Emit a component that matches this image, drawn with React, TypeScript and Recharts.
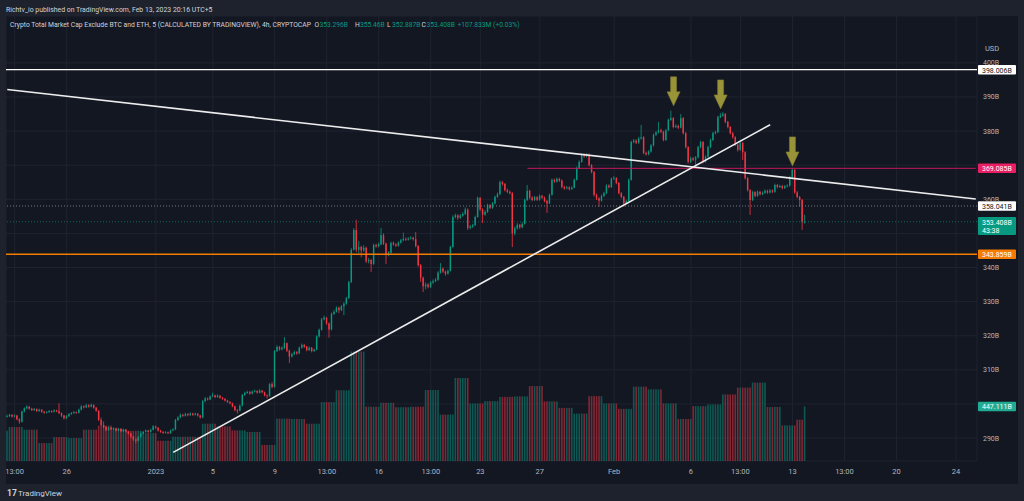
import React from 'react';
import { ComposedChart, Bar, XAxis, YAxis, CartesianGrid, ReferenceLine, ReferenceDot } from 'recharts';

// ---- candles (4h), open of each candle = close of the previous one ----
const OPEN_FIRST = 296.2;
const CLOSE = [
  296.4, 296.8, 296.3, 296.6, 295.5, 294.8, 297.8, 298.7, 299.2, 298.6,
  298.2, 298.5, 297.9, 298.3, 297.7, 297.4, 297.6, 297.9, 297.7, 298.1,
  297.9, 297.3, 296.6, 295.8, 296.4, 297.0, 297.3, 297.6, 297.4, 298.3,
  299.3, 299.0, 299.6, 299.2, 299.7, 298.9, 298.0, 295.3, 293.8, 293.2,
  292.4, 293.0, 292.6, 292.9, 292.2, 292.7, 292.0, 292.4, 291.9, 291.3,
  290.4, 289.6, 289.2, 290.3, 291.3, 291.8, 292.2, 291.8, 292.4, 293.4,
  293.0, 292.2, 291.8, 291.5, 291.7, 291.4, 292.2, 292.5, 295.3, 296.0,
  296.8, 296.5, 297.0, 296.7, 297.2, 296.8, 297.1, 296.6, 296.0, 300.8,
  301.6, 301.3, 302.2, 302.5, 302.0, 302.4, 301.8, 301.5, 301.0, 300.6,
  300.2, 299.3, 298.2, 298.0, 299.5, 302.6, 303.2, 303.5, 303.0, 303.6,
  303.8, 303.3, 303.9, 303.4, 302.5, 302.3, 305.8, 305.0, 315.5, 316.7,
  316.0, 316.4, 317.8, 315.6, 313.9, 314.6, 315.2, 314.8, 316.5, 317.3,
  316.8, 315.8, 316.5, 315.5, 315.9, 319.8, 321.7, 324.8, 325.3, 323.6,
  321.8, 326.4, 327.0, 328.2, 327.5, 328.6, 329.4, 331.0, 335.7, 345.2,
  351.0, 345.2, 346.0, 345.0, 345.8, 341.8, 342.2, 341.0, 346.6, 346.2,
  346.8, 349.5, 347.0, 343.7, 344.3, 347.2, 346.8, 346.4, 347.3, 348.0,
  348.4, 348.2, 348.5, 348.7, 348.3, 346.3, 340.7, 337.0, 334.5, 335.0,
  334.3, 335.6, 336.0, 336.4, 338.5, 339.7, 338.8, 338.2, 339.0, 346.0,
  354.8, 355.3, 354.6, 355.2, 355.7, 357.0, 351.6, 352.0, 352.4, 354.8,
  360.4, 357.0, 355.5, 356.3, 358.3, 357.5, 358.8, 360.7, 361.5, 365.0,
  364.5, 362.7, 362.2, 361.8, 350.0, 351.5, 352.5, 351.8, 352.8, 359.8,
  362.5, 360.5, 359.8, 360.6, 359.9, 361.0, 360.5, 359.5, 358.8, 361.3,
  365.7, 365.2, 366.0, 365.5, 363.6, 363.2, 363.5, 363.0, 363.4, 365.7,
  369.2, 371.0, 373.0, 372.6, 373.2, 370.0, 368.0, 361.3, 360.3, 359.6,
  361.0, 361.8, 364.0, 363.6, 366.0, 366.2, 364.8, 361.8, 360.7, 358.8,
  359.5, 365.7, 376.8, 377.2, 376.6, 377.8, 378.2, 373.6, 373.2, 374.0,
  375.8, 378.9, 379.6, 380.3, 379.8, 377.4, 380.2, 383.3, 383.8, 381.2,
  381.5, 381.0, 383.8, 379.4, 375.3, 371.0, 372.0, 371.6, 372.3, 375.3,
  376.8, 371.0, 372.5, 375.3, 377.4, 379.4, 379.7, 384.1, 384.5, 385.0,
  382.7, 381.2, 379.4, 378.2, 376.0, 374.5, 376.5, 373.8, 366.2, 362.7,
  359.8, 362.1, 361.0, 362.2, 361.5, 361.9, 362.5, 362.0, 362.6, 362.2,
  364.2, 363.6, 363.9, 363.3, 363.8, 364.0, 366.5, 368.6, 362.0, 360.7,
  359.8, 353.296, 353.408,
];
const HIGH = [
  296.9, 297.1, 297.0, 296.9, 296.8, 295.8, 298.0, 299.0, 299.6, 299.4,
  298.9, 298.8, 298.7, 298.6, 298.5, 298.0, 297.9, 298.2, 298.1, 298.4,
  298.3, 300.2, 297.5, 296.8, 296.7, 297.3, 297.6, 297.9, 297.8, 298.6,
  299.6, 299.5, 300.0, 299.9, 300.1, 299.9, 299.1, 298.2, 296.0, 294.9,
  293.5, 293.3, 293.2, 293.1, 293.0, 293.0, 292.9, 292.7, 292.6, 292.1,
  291.5, 290.6, 289.9, 290.5, 291.6, 292.1, 292.5, 292.4, 292.7, 293.8,
  293.6, 293.2, 292.4, 292.0, 292.0, 291.9, 292.5, 292.9, 295.6, 296.4,
  297.2, 297.1, 297.4, 297.3, 297.5, 297.4, 297.4, 297.3, 296.8, 301.1,
  302.0, 301.9, 302.5, 303.3, 302.7, 302.8, 302.6, 302.0, 301.7, 301.2,
  300.8, 300.4, 299.5, 298.5, 299.8, 302.9, 303.6, 303.9, 303.8, 304.0,
  304.2, 304.0, 304.3, 304.1, 303.6, 302.8, 306.1, 306.4, 315.8, 317.2,
  317.0, 316.9, 319.6, 318.0, 315.9, 315.0, 315.6, 315.5, 316.8, 317.7,
  317.6, 317.0, 316.8, 316.7, 316.2, 320.1, 322.1, 325.2, 325.9, 325.5,
  323.9, 326.8, 327.5, 328.6, 328.5, 329.0, 329.8, 331.4, 336.1, 345.7,
  351.6, 354.0, 347.8, 346.4, 346.5, 346.1, 342.8, 342.5, 347.0, 347.0,
  347.3, 351.6, 350.0, 347.3, 344.8, 347.6, 347.6, 347.1, 347.7, 348.4,
  350.2, 348.8, 348.9, 349.2, 349.0, 350.4, 346.6, 341.0, 337.3, 335.6,
  335.4, 336.0, 336.5, 336.9, 338.9, 341.3, 340.0, 339.1, 339.4, 346.4,
  355.3, 355.8, 355.6, 355.7, 356.2, 357.6, 357.3, 352.5, 352.8, 355.2,
  360.8, 360.7, 357.4, 356.8, 358.7, 358.6, 359.2, 361.1, 362.0, 365.5,
  365.4, 364.8, 363.1, 362.6, 362.1, 352.0, 353.0, 352.8, 353.3, 360.2,
  364.2, 362.8, 360.9, 361.0, 360.9, 361.4, 361.3, 360.8, 359.8, 361.7,
  366.1, 366.1, 366.4, 366.3, 365.8, 364.0, 363.9, 363.8, 363.8, 366.1,
  369.6, 371.4, 373.4, 373.5, 373.6, 373.5, 370.3, 368.3, 361.7, 360.6,
  361.4, 362.2, 364.4, 364.4, 366.4, 366.8, 366.5, 365.1, 362.1, 361.0,
  359.9, 366.1, 377.2, 377.7, 377.6, 378.3, 381.8, 378.5, 374.0, 374.4,
  376.2, 379.3, 380.0, 382.7, 380.7, 380.1, 380.6, 383.7, 386.0, 384.1,
  382.0, 381.9, 385.0, 384.1, 379.7, 375.6, 372.5, 372.4, 372.7, 375.7,
  377.2, 377.1, 372.9, 375.7, 377.8, 379.8, 380.1, 384.5, 385.3, 385.6,
  385.3, 383.0, 381.5, 379.7, 378.5, 376.3, 376.9, 376.8, 374.1, 366.5,
  363.0, 362.5, 362.4, 362.6, 362.5, 362.3, 362.9, 362.8, 363.0, 362.9,
  364.6, 364.5, 364.3, 364.2, 364.2, 364.4, 366.9, 369.2, 368.9, 362.4,
  361.0, 360.1, 355.46,
];
const LOW = [
  296.0, 296.2, 296.0, 296.0, 295.2, 294.2, 294.5, 297.5, 298.4, 298.3,
  297.9, 297.9, 297.6, 297.7, 297.4, 297.1, 297.2, 297.4, 297.4, 297.5,
  297.6, 297.0, 296.2, 295.4, 295.5, 296.2, 296.8, 297.1, 297.1, 297.2,
  298.1, 298.7, 298.8, 298.9, 299.0, 298.6, 297.7, 295.0, 293.4, 292.8,
  292.0, 292.1, 292.3, 292.4, 291.9, 292.0, 291.7, 291.8, 291.6, 291.0,
  290.0, 289.1, 288.5, 289.0, 290.1, 291.1, 291.6, 291.5, 291.6, 292.2,
  292.7, 291.9, 291.5, 291.2, 291.3, 291.1, 291.2, 292.0, 292.3, 295.0,
  295.8, 296.2, 296.3, 296.4, 296.5, 296.5, 296.6, 296.3, 295.7, 295.8,
  300.5, 301.0, 301.1, 302.0, 301.7, 301.8, 301.5, 301.2, 300.7, 300.3,
  299.9, 299.0, 297.8, 297.2, 297.8, 299.3, 302.4, 303.0, 302.7, 302.8,
  303.4, 303.0, 303.1, 303.1, 302.2, 301.6, 302.1, 304.6, 304.8, 315.2,
  315.6, 315.7, 316.1, 315.2, 312.0, 313.6, 314.3, 314.4, 314.6, 316.2,
  316.4, 315.4, 315.5, 315.1, 315.2, 315.7, 319.5, 321.5, 324.5, 323.2,
  319.4, 321.6, 326.1, 326.8, 326.6, 327.2, 326.0, 329.1, 330.8, 335.5,
  345.0, 344.5, 344.2, 343.0, 344.6, 341.3, 341.2, 338.7, 340.8, 345.8,
  345.9, 346.5, 346.6, 341.0, 343.3, 344.0, 346.4, 346.0, 346.1, 347.0,
  347.7, 347.8, 347.9, 348.2, 347.9, 345.9, 340.2, 335.8, 332.8, 333.6,
  333.9, 334.0, 335.2, 335.7, 336.1, 338.2, 338.4, 337.6, 337.9, 338.8,
  345.8, 354.4, 354.0, 354.3, 354.9, 355.4, 351.0, 351.2, 351.6, 352.2,
  354.6, 356.5, 353.0, 355.2, 356.0, 357.1, 357.2, 358.5, 360.4, 361.2,
  364.0, 362.3, 361.8, 361.4, 346.0, 349.4, 351.1, 351.3, 351.5, 352.6,
  359.5, 360.0, 359.4, 359.5, 359.5, 359.6, 360.1, 359.1, 356.0, 358.6,
  361.1, 364.8, 364.9, 365.1, 363.2, 362.8, 362.9, 362.6, 362.7, 363.2,
  365.5, 368.9, 370.7, 372.2, 372.3, 369.6, 367.6, 360.8, 359.8, 357.8,
  359.3, 360.7, 361.5, 363.2, 363.3, 365.7, 364.4, 361.4, 360.3, 357.8,
  358.5, 359.3, 365.5, 376.4, 376.2, 376.3, 377.5, 373.2, 372.8, 372.9,
  373.7, 375.5, 378.6, 379.3, 379.4, 377.0, 377.1, 380.0, 383.0, 380.8,
  380.9, 380.6, 380.8, 379.0, 374.9, 370.5, 370.6, 371.2, 369.6, 372.0,
  375.0, 370.5, 370.7, 372.2, 375.0, 377.1, 379.0, 379.4, 383.8, 384.2,
  382.3, 380.8, 379.0, 377.8, 375.6, 374.0, 374.2, 371.5, 365.8, 362.3,
  355.4, 359.5, 360.6, 360.7, 361.1, 361.2, 361.6, 361.6, 361.7, 361.8,
  361.9, 363.2, 363.3, 362.9, 363.0, 363.5, 363.7, 366.2, 361.6, 360.3,
  357.8, 351.0, 352.887,
];
// daily volume (B), one value per UTC day, the running candle separately
const DAY_VOLUME = [
  248, 279, 257, 147, 196, 188, 257, 290, 262, 248,
  229, 166, 199, 199, 306, 284, 251, 238, 132, 348,
  345, 306, 483, 580, 898, 445, 478, 441, 445, 582,
  381, 681, 472, 491, 526, 530, 615, 489, 436, 389,
  532, 472, 428, 610, 588, 472, 345, 450, 464, 546,
  602, 643, 443, 292, 339,
];
const LAST_VOLUME = 447.111;
const FUTURE_SLOTS = 69;

const TIME_TICKS = [3, 24, 60, 83, 108, 129, 150, 171, 191, 215, 245, 276, 296, 317, 338, 359, 383];
const TIME_LABELS = ['13:00', '26', '2023', '5', '9', '13:00', '16', '13:00', '23', '27', 'Feb', '6', '13:00', '13', '13:00', '20', '24'];
const PRICE_TICKS = [290, 300, 310, 320, 330, 340, 350, 360, 370, 380, 390, 400];
const PRICE_TICKS_UNDER_TAGS = [300, 350, 370];
const PRICE_DOMAIN = [283.26, 413.75];
const VOLUME_DOMAIN = [0, 3650];

// drawings
const LEVEL_TOP = 398.006;
const LEVEL_PINK = 369.085;
const LEVEL_PREV = 358.041;
const LEVEL_ORANGE = 343.859;
const PINK_START = 210;
const FALLING_LINE = [{ x: 0, y: 392.18 }, { x: 391, y: 360.09 }];
const RISING_LINE = [{ x: 67, y: 285.78 }, { x: 308, y: 381.88 }];
const ARROWS = [{ i: 269, v: 387.4 }, { i: 288, v: 386.5 }, { i: 317, v: 369.8 }];
const COUNTDOWN = '43:38';
const TITLE = 'Crypto Total Market Cap Exclude BTC and ETH, 5 (CALCULATED BY TRADINGVIEW), 4h, CRYPTOCAP';
const PUBLISHED = 'Richtv_io published on TradingView.com, Feb 13, 2023 20:16 UTC+5';
const CHANGE_TEXT = '+107.833M (+0.03%)';

const UP = '#089981';
const DOWN = '#f23645';
const VUP = 'rgba(8,153,129,0.5)';
const VDOWN = 'rgba(242,54,69,0.5)';
const TXT = '#b2b5be';
const LEG = '#d1d4dc';
const FONT = 'Roboto, "Noto Sans", sans-serif';

const data: any[] = [];
for (let i = 0; i < CLOSE.length + FUTURE_SLOTS; i++) {
  if (i < CLOSE.length) {
    const o = i === 0 ? OPEN_FIRST : CLOSE[i - 1];
    const vol = i === CLOSE.length - 1 ? LAST_VOLUME : DAY_VOLUME[Math.min(DAY_VOLUME.length - 1, Math.ceil(i / 6))];
    data.push({ i, o, h: HIGH[i], l: LOW[i], c: CLOSE[i], vol, range: [LOW[i], HIGH[i]] });
  } else {
    data.push({ i });
  }
}
const LAST = data[CLOSE.length - 1];

const Candle = (props: any) => {
  const { x, y, width, height, payload } = props;
  if (!payload || payload.h == null) return null;
  const { o, h, l, c } = payload;
  const color = c >= o ? UP : DOWN;
  const ppu = h - l > 0 ? height / (h - l) : 0;
  const yTop = y + (h - Math.max(o, c)) * ppu;
  const yBot = y + (h - Math.min(o, c)) * ppu;
  const bw = Math.max(1, width * 0.72);
  const cx = x + width / 2;
  return (
    <g>
      <line x1={cx} x2={cx} y1={y} y2={y + height} stroke={color} strokeWidth={0.8} />
      <rect x={cx - bw / 2} y={yTop} width={bw} height={Math.max(0.8, yBot - yTop)} fill={color} />
    </g>
  );
};

const VolumeBar = (props: any) => {
  const { x, y, width, height, payload } = props;
  if (!payload || payload.vol == null) return null;
  return <rect x={x + width * 0.1} y={y} width={width * 0.8} height={height} fill={payload.c >= payload.o ? VUP : VDOWN} />;
};

const Arrow = (props: any) => {
  const { cx, cy } = props;
  const pts = [
    [cx, cy], [cx - 6.5, cy - 14], [cx - 3, cy - 14], [cx - 3, cy - 29],
    [cx + 3, cy - 29], [cx + 3, cy - 14], [cx + 6.5, cy - 14],
  ].map((p) => p.join(',')).join(' ');
  return <polygon points={pts} fill="#9a9438" stroke="#7d7930" strokeWidth={0.6} />;
};

const fmt = (v: number) => `${parseFloat(v.toFixed(3))}B`;

const tag = (text: string, bg: string, fg: string, sub?: string) => (p: any) => {
  const vb = p.viewBox || {};
  const right = (vb.x || 0) + (vb.width || 0);
  const yc = (vb.y || 0) + (vb.height || 0) / 2;
  const h = sub ? 18 : 9.5;
  return (
    <g>
      <rect x={right + 1} y={yc - 4.75} width={38} height={h} fill={bg} rx={1} />
      <text x={right + 5} y={yc + 0.5} dy="0.35em" fontSize={7} fill={fg} fontFamily={FONT}>{text}</text>
      {sub ? <text x={right + 5} y={yc + 8.8} dy="0.35em" fontSize={7} fill={fg} fontFamily={FONT}>{sub}</text> : null}
    </g>
  );
};

// one line of small text squeezed horizontally to a target width
const Squeezed = ({ x, y, w, natural, fill, size, children }: any) => (
  <g transform={`translate(${x},${y}) scale(${w / natural},1)`}>
    <text x={0} y={0} dy="0.35em" fontSize={size} fill={fill} fontFamily={FONT}>{children}</text>
  </g>
);

const Ohlc = ({ x, k, v }: any) => (
  <>
    <text x={x} y={24.5} dy="0.35em" fontSize={6.7} fill={LEG} fontFamily={FONT}>{k}</text>
    <text x={x + 5} y={24.5} dy="0.35em" fontSize={6.7} fill={UP} fontFamily={FONT}>{v}</text>
  </>
);

export default function App() {
  return (
    <div style={{ position: 'fixed', left: 0, top: 0, width: 1024, height: 501, background: '#1e222d', overflow: 'hidden', fontFamily: FONT }}>
      <div style={{ position: 'absolute', left: 6, top: 16, width: 1012, height: 468, background: '#131722' }}>
        <ComposedChart width={1012} height={468} data={data} margin={{ top: 0, right: 0, bottom: 0, left: 0 }} barCategoryGap={0} barGap={0}>
          <CartesianGrid xAxisId="p" yAxisId="p" stroke="#1f2330" />
          <XAxis
            xAxisId="p" dataKey="i" type="category" ticks={TIME_TICKS} interval={0}
            tickFormatter={(v: any) => TIME_LABELS[TIME_TICKS.indexOf(Number(v))] ?? ''}
            axisLine={false} tickLine={false} tickSize={0} tickMargin={8} height={23}
            tick={{ fill: TXT, fontSize: 7.5, fontFamily: FONT }}
          />
          <XAxis xAxisId="v" dataKey="i" type="category" hide />
          <YAxis
            yAxisId="p" orientation="right" type="number" domain={PRICE_DOMAIN} ticks={PRICE_TICKS}
            allowDataOverflow
            tickFormatter={(v: any) => (PRICE_TICKS_UNDER_TAGS.includes(Number(v)) ? '' : `${v}B`)}
            width={41} axisLine={false} tickLine={false} tickSize={0} tickMargin={6}
            tick={{ fill: TXT, fontSize: 7, fontFamily: FONT, textAnchor: 'start' }}
          />
          <YAxis yAxisId="v" type="number" domain={VOLUME_DOMAIN} allowDataOverflow hide />

          <Bar xAxisId="v" yAxisId="v" dataKey="vol" shape={VolumeBar} isAnimationActive={false} />
          <Bar xAxisId="p" yAxisId="p" dataKey="range" shape={Candle} isAnimationActive={false} />

          <ReferenceLine xAxisId="p" yAxisId="p" y={LEVEL_PREV} stroke="#787b86" strokeDasharray="1 2" strokeWidth={1} label={tag(fmt(LEVEL_PREV), '#ffffff', '#131722')} />
          <ReferenceLine xAxisId="p" yAxisId="p" y={LAST.c} stroke={UP} strokeOpacity={0.6} strokeDasharray="1 2" strokeWidth={1} label={tag(fmt(LAST.c), UP, '#ffffff', COUNTDOWN)} />
          <ReferenceLine xAxisId="p" yAxisId="p" y={LEVEL_ORANGE} stroke="#f57c00" strokeWidth={1.5} label={tag(fmt(LEVEL_ORANGE), '#f57c00', '#ffffff')} />
          <ReferenceLine xAxisId="p" yAxisId="p" segment={[{ x: PINK_START, y: LEVEL_PINK }, { x: data.length - 1, y: LEVEL_PINK }]} stroke="#c2185b" strokeWidth={1} />
          <ReferenceLine xAxisId="p" yAxisId="p" y={LEVEL_PINK} stroke="none" strokeOpacity={0} label={tag(fmt(LEVEL_PINK), '#e91e63', '#ffffff')} />
          <ReferenceLine xAxisId="p" yAxisId="p" y={LEVEL_TOP} stroke="#ffffff" strokeWidth={1.2} label={tag(fmt(LEVEL_TOP), '#ffffff', '#131722')} />
          <ReferenceLine xAxisId="p" yAxisId="p" segment={FALLING_LINE} stroke="#ececec" strokeWidth={1.6} />
          <ReferenceLine xAxisId="p" yAxisId="p" segment={RISING_LINE} stroke="#ececec" strokeWidth={1.6} />
          <ReferenceLine xAxisId="v" yAxisId="v" y={LAST_VOLUME} stroke="none" strokeOpacity={0} label={tag(fmt(LAST_VOLUME), '#22ab94', '#ffffff')} />
          {ARROWS.map((a, k) => (
            <ReferenceDot key={k} xAxisId="p" yAxisId="p" x={a.i} y={a.v} ifOverflow="visible" shape={Arrow} />
          ))}
        </ComposedChart>
      </div>
      <svg width={1024} height={501} style={{ position: 'absolute', left: 0, top: 0, pointerEvents: 'none' }}>
        <Squeezed x={6} y={9} w={207} natural={225} fill={LEG} size={7.5}>{PUBLISHED}</Squeezed>
        <Squeezed x={10} y={24.5} w={302} natural={334} fill={LEG} size={7.5}>{TITLE}</Squeezed>
        <Ohlc x={314.5} k="O" v={fmt(LAST.o)} />
        <Ohlc x={355} k="H" v={fmt(LAST.h)} />
        <Ohlc x={387} k="L" v={fmt(LAST.l)} />
        <Ohlc x={421.5} k="C" v={fmt(LAST.c)} />
        <text x={457.5} y={24.5} dy="0.35em" fontSize={6.7} fill={UP} fontFamily={FONT}>{CHANGE_TEXT}</text>
        <text x={985} y={48} dy="0.35em" fontSize={7.5} fill={TXT} fontFamily={FONT}>USD</text>
        <text x={7} y={493} dy="0.35em" fontSize={8.5} fontWeight={700} fill={LEG} fontFamily={FONT}>17</text>
        <text x={18} y={493} dy="0.35em" fontSize={8} fill={LEG} fontFamily={FONT}>TradingView</text>
      </svg>
    </div>
  );
}
